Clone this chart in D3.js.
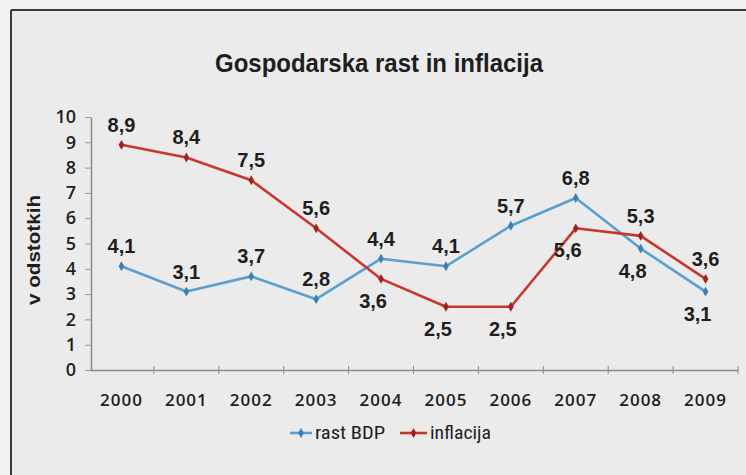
<!DOCTYPE html>
<html>
<head>
<meta charset="utf-8">
<script src="https://cdn.jsdelivr.net/npm/d3@7"></script>
<style>
  html, body { margin: 0; padding: 0; background: #efefef; }
  svg { display: block; }
</style>
</head>
<body>
<svg id="chart" width="746" height="475"></svg>
<script>
// values
const years = ['2000', '2001', '2002', '2003', '2004', '2005', '2006', '2007', '2008', '2009'];
const rastBdp = [4.1, 3.1, 3.7, 2.8, 4.4, 4.1, 5.7, 6.8, 4.8, 3.1];
const inflacija = [8.9, 8.4, 7.5, 5.6, 3.6, 2.5, 2.5, 5.6, 5.3, 3.6];
const yTicks = [0, 1, 2, 3, 4, 5, 6, 7, 8, 9, 10];
// where each value label sits: a = above the point, b = below
const bdpLabelSide = ['a', 'a', 'a', 'a', 'a', 'a', 'a', 'a', 'b', 'b'];
const inflLabelSide = ['a', 'a', 'a', 'a', 'b', 'b', 'b', 'b', 'a', 'a'];

const series = [
    { name: 'rast BDP', values: rastBdp, sides: bdpLabelSide, color: '#5a9fd0', mark: '#3b7fb3' },
    { name: 'inflacija', values: inflacija, sides: inflLabelSide, color: '#c7372c', mark: '#9e241b' }
];

const NARROW = '"Liberation Sans Narrow", "Roboto Condensed", "Liberation Sans", sans-serif';
const PLAIN = '"Open Sans", "DejaVu Sans", sans-serif';
const BOLD = '"Liberation Sans", sans-serif';
const INK = '#1e1e1e';

const svg = d3.select('#chart');
const W = 746, H = 475;

// paper + frame
svg.append('rect').attr('width', W).attr('height', H).attr('fill', '#f1f1f1');
svg.append('rect').attr('x', 11).attr('y', 10).attr('width', W - 11).attr('height', H - 10).attr('fill', '#ebebeb');
svg.append('line').attr('x1', 11).attr('x2', W).attr('y1', 10).attr('y2', 10).attr('stroke', '#3a3a3a').attr('stroke-width', 2);
svg.append('line').attr('x1', 11).attr('x2', 11).attr('y1', 10).attr('y2', H).attr('stroke', '#3a3a3a').attr('stroke-width', 2);

const x = d3.scaleBand().domain(years).range([89, 738]).padding(0);
const y = d3.scaleLinear().domain([0, 10]).range([370, 117]);
const cx = d => x(d) + x.bandwidth() / 2;

// title
svg.append('text')
    .attr('x', 379).attr('y', 72)
    .attr('text-anchor', 'middle')
    .attr('textLength', 328).attr('lengthAdjust', 'spacingAndGlyphs')
    .style('font-family', BOLD).style('font-size', '26px').style('font-weight', 'bold').style('fill', INK)
    .text('Gospodarska rast in inflacija');

// y axis
const yAxis = svg.append('g')
    .attr('transform', 'translate(91,0)')
    .call(d3.axisLeft(y).tickValues(yTicks).tickSize(6).tickPadding(9).tickSizeOuter(0));
yAxis.select('.domain').attr('stroke', '#8a8a8a').attr('stroke-width', 1.5);
yAxis.selectAll('.tick line').attr('stroke', '#9a9a9a');
yAxis.selectAll('.tick text')
    .style('font-family', PLAIN).style('font-size', '18px').style('font-weight', 600).style('fill', INK);

svg.append('text')
    .attr('transform', 'translate(40,250) rotate(-90)')
    .attr('text-anchor', 'middle')
    .attr('textLength', 110).attr('lengthAdjust', 'spacingAndGlyphs')
    .style('font-family', BOLD).style('font-size', '19px').style('font-weight', 'bold').style('fill', INK)
    .text('v odstotkih');

// x axis: labels centred on bands, ticks on band edges
const xAxis = svg.append('g')
    .attr('transform', 'translate(0,370)')
    .call(d3.axisBottom(x).tickSize(0).tickPadding(24).tickSizeOuter(0));
xAxis.select('.domain').attr('stroke', '#8a8a8a').attr('stroke-width', 1.5);
xAxis.selectAll('.tick text')
    .style('font-family', PLAIN).style('font-size', '17px').style('font-weight', 600).style('fill', INK)
    .style('letter-spacing', '1px');

const edges = years.slice(1).map(d => x(d)).concat([x.range()[1]]);
svg.append('g').selectAll('line')
    .data(edges)
    .join('line')
    .attr('x1', d => d).attr('x2', d => d)
    .attr('y1', 366).attr('y2', 374)
    .attr('stroke', '#8a8a8a');

// lines, markers, value labels
const line = d3.line()
    .x((d, i) => cx(years[i]))
    .y(d => y(d));

series.forEach(s => {
    const g = svg.append('g');
    g.append('path')
        .datum(s.values)
        .attr('fill', 'none')
        .attr('stroke', s.color)
        .attr('stroke-width', 2.6)
        .attr('stroke-linejoin', 'round')
        .attr('d', line);

    g.selectAll('path.mark')
        .data(s.values)
        .join('path')
        .attr('class', 'mark')
        .attr('transform', (d, i) => `translate(${cx(years[i])},${y(d)})`)
        .attr('d', d3.symbol(d3.symbolDiamond, 28))
        .attr('fill', s.mark);

    g.selectAll('text')
        .data(s.values)
        .join('text')
        .attr('x', (d, i) => cx(years[i]) + (s.sides[i] === 'b' ? -8 : 0))
        .attr('y', (d, i) => y(d) + (s.sides[i] === 'b' ? 29 : -13))
        .attr('text-anchor', 'middle')
        .style('font-family', BOLD).style('font-size', '20px').style('font-weight', 'bold').style('fill', INK)
        .text(d => String(d).replace('.', ','));
});

// legend
const legend = svg.append('g').attr('transform', 'translate(0,433)');
const legendX = [290, 400];
series.forEach((s, i) => {
    const lx = legendX[i];
    const len = i === 0 ? 22 : 27;
    legend.append('line')
        .attr('x1', lx).attr('x2', lx + len)
        .attr('stroke', s.color).attr('stroke-width', 2.6);
    legend.append('path')
        .attr('transform', `translate(${lx + len / 2},0)`)
        .attr('d', d3.symbol(d3.symbolDiamond, 28))
        .attr('fill', s.mark);
    legend.append('text')
        .attr('x', lx + len + 3).attr('y', 6)
        .attr('textLength', i === 0 ? 70 : 61).attr('lengthAdjust', 'spacingAndGlyphs')
        .style('font-family', NARROW).style('font-size', '18px').style('fill', INK)
        .text(s.name);
});
</script>
</body>
</html>
